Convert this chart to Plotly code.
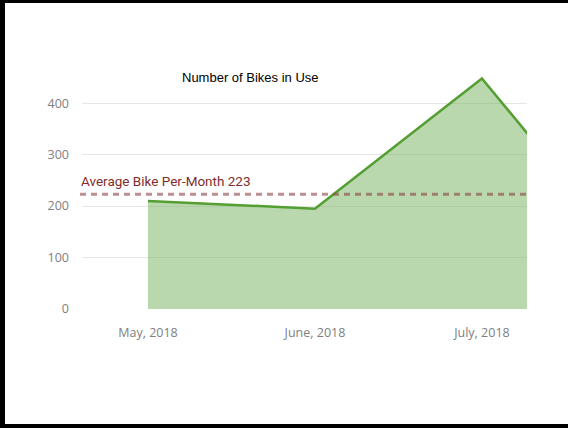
import plotly.graph_objects as go

months = ["May, 2018", "June, 2018", "July, 2018", "August, 2018"]
bikes = [210, 195, 448, 55]
avg_value = 223
avg_label = "Average Bike Per-Month 223"
title_text = "Number of Bikes in Use"
y_ticks = [0, 100, 200, 300, 400]

W, H = 568, 428
L, R, T, B = 82, 41, 62, 119
pw, ph = W - L - R, H - T - B

def px_x(px):
    return (px - L) / pw

def px_y(py):
    return (H - B - py) / ph

fig = go.Figure()
fig.add_trace(go.Scatter(
    x=months, y=bikes, mode="lines", fill="tozeroy",
    line=dict(color="rgb(84,158,50)", width=2.5),
    fillcolor="rgba(115,177,93,0.5)",
    hoverinfo="skip", showlegend=False,
))

shapes = [
    dict(type="line", xref="paper", yref="y", x0=px_x(80), x1=1, y0=avg_value, y1=avg_value,
         line=dict(color="rgba(140,70,70,0.6)", width=3, dash="6px,5px"), layer="above"),
    # frame border (top, left, bottom)
    dict(type="line", xref="paper", yref="paper", x0=px_x(0), x1=px_x(W), y0=px_y(1.5), y1=px_y(1.5),
         line=dict(color="black", width=3)),
    dict(type="line", xref="paper", yref="paper", x0=px_x(2.5), x1=px_x(2.5), y0=px_y(0), y1=px_y(H),
         line=dict(color="black", width=5)),
    dict(type="line", xref="paper", yref="paper", x0=px_x(0), x1=px_x(W), y0=px_y(426), y1=px_y(426),
         line=dict(color="black", width=4)),
]

annotations = [
    dict(text=title_text, xref="paper", yref="paper", x=px_x(250), y=px_y(78),
         xanchor="center", yanchor="middle", showarrow=False,
         font=dict(family="Liberation Sans, Arial", size=13, color="black")),
    dict(text=avg_label, xref="paper", yref="paper", x=px_x(79), y=px_y(181),
         xanchor="left", yanchor="middle", showarrow=False,
         font=dict(family="Roboto", size=13.5, color="rgb(130,45,45)")),
]

fig.update_layout(
    width=W, height=H, autosize=False,
    margin=dict(l=L, r=R, t=T, b=B),
    paper_bgcolor="white", plot_bgcolor="white",
    shapes=shapes, annotations=annotations,
    xaxis=dict(range=[-0.395, 2.27], showgrid=False, zeroline=False, showline=False,
               tickfont=dict(family="Open Sans", size=12.5, color="#808080"),
               ticks="", ticklabelstandoff=14, fixedrange=True),
    yaxis=dict(range=[0, 480], tickvals=y_ticks, showgrid=True, gridcolor="#e6e6e6",
               gridwidth=1, zeroline=False, showline=False,
               tickfont=dict(family="Open Sans", size=12.5, color="#808080"),
               ticks="", ticklabelstandoff=12, fixedrange=True),
)

fig.write_html("out.html", config={"displayModeBar": False, "responsive": False},
               post_script="document.body.style.margin='0';document.body.style.overflow='hidden';")
